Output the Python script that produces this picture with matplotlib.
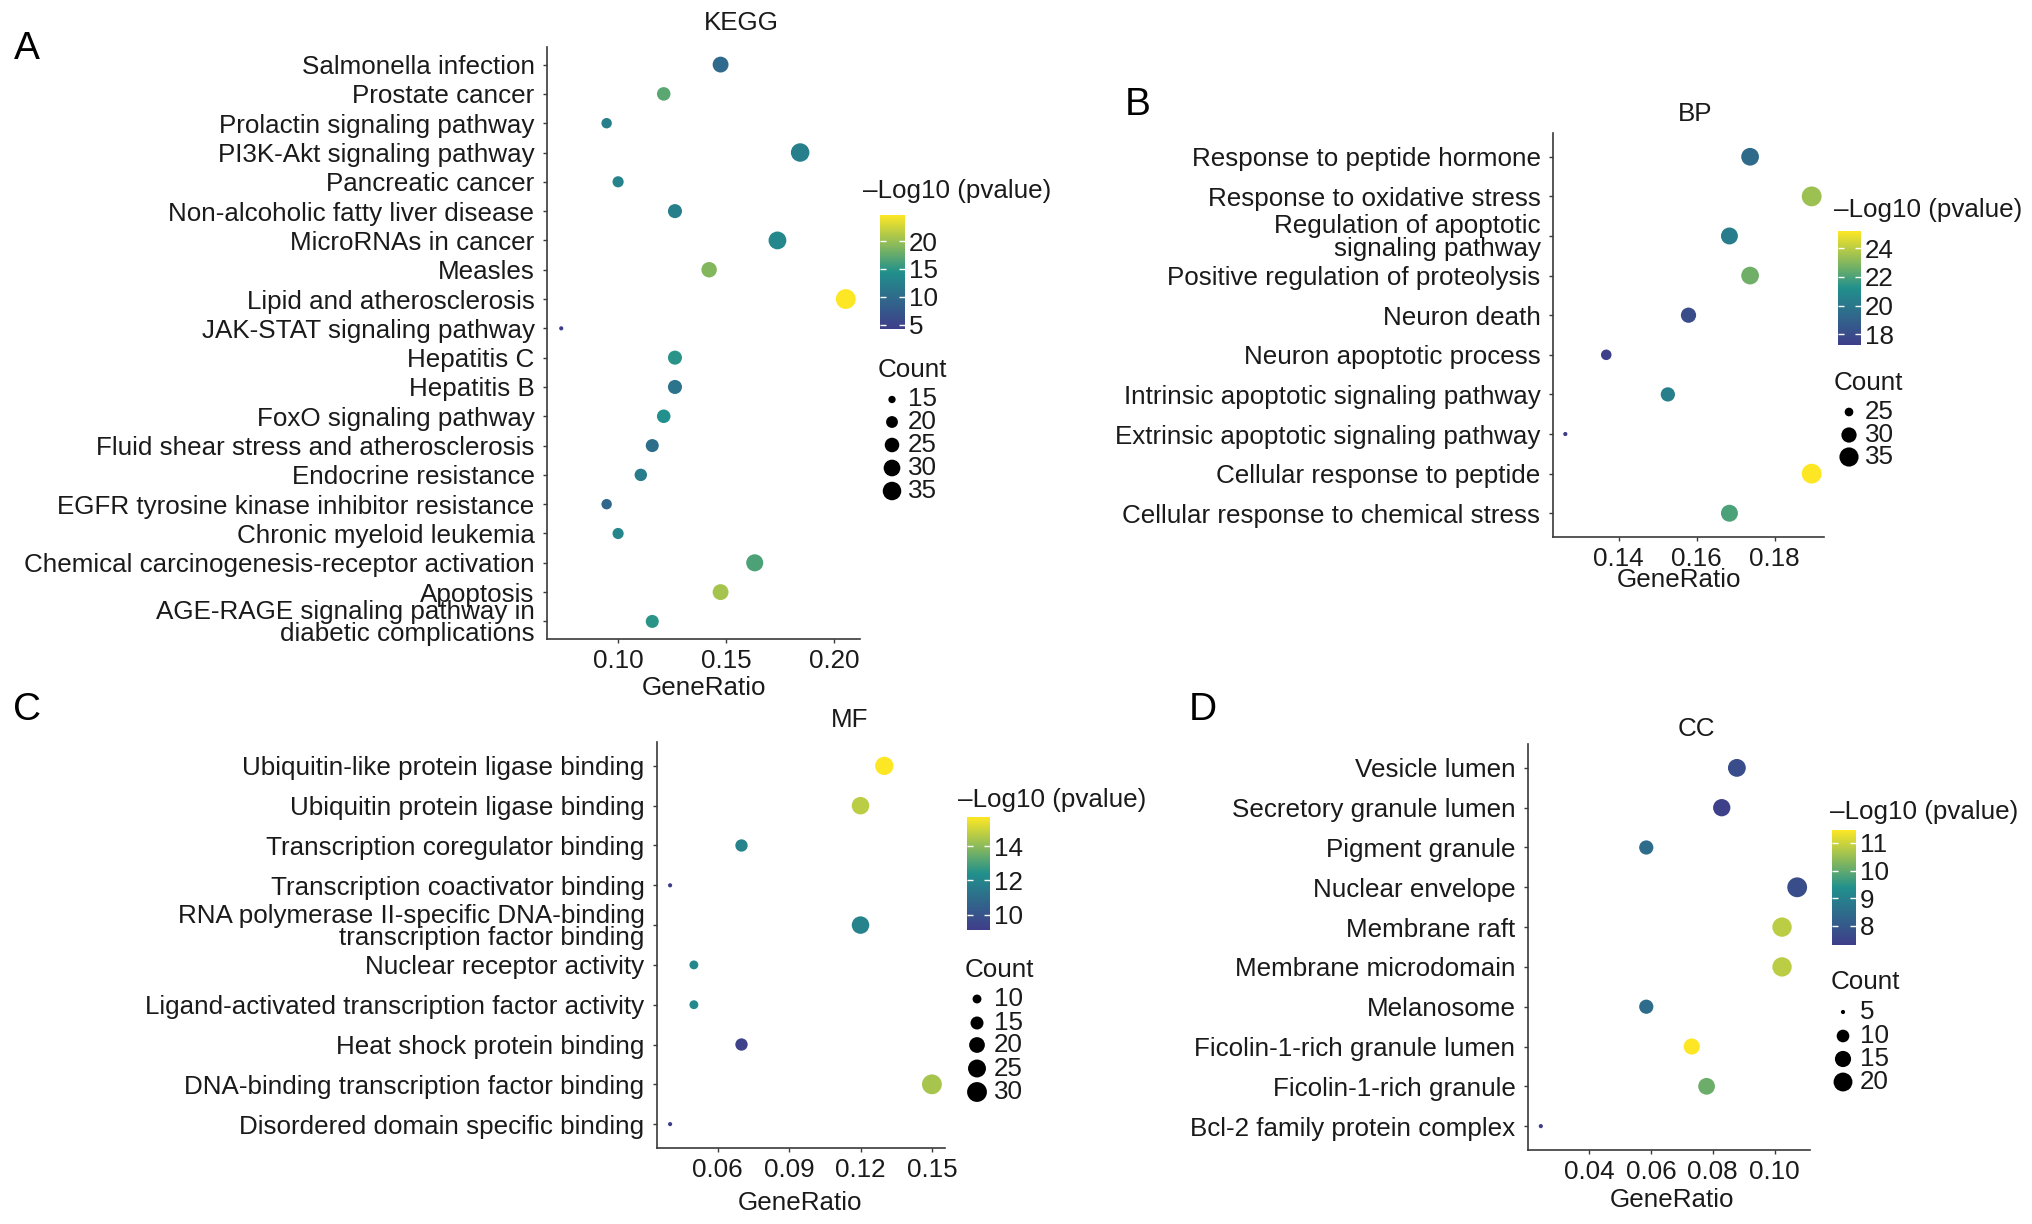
import numpy as np
import matplotlib
matplotlib.use("Agg")
import matplotlib.pyplot as plt
from matplotlib.colors import Normalize, LinearSegmentedColormap
from matplotlib.cm import ScalarMappable

plt.rcParams['font.family'] = ['Liberation Sans', 'DejaVu Sans']

# ---------------- data ----------------
kegg_terms = ["Salmonella infection", "Prostate cancer", "Prolactin signaling pathway",
              "PI3K-Akt signaling pathway", "Pancreatic cancer", "Non-alcoholic fatty liver disease",
              "MicroRNAs in cancer", "Measles", "Lipid and atherosclerosis", "JAK-STAT signaling pathway",
              "Hepatitis C", "Hepatitis B", "FoxO signaling pathway", "Fluid shear stress and atherosclerosis",
              "Endocrine resistance", "EGFR tyrosine kinase inhibitor resistance", "Chronic myeloid leukemia",
              "Chemical carcinogenesis-receptor activation", "Apoptosis",
              "AGE-RAGE signaling pathway in\ndiabetic complications"]
kegg_count = [28, 23, 18, 35, 19, 24, 33, 27, 39, 14, 24, 24, 23, 22, 21, 18, 19, 31, 28, 22]
kegg_ratio = [0.1474, 0.1211, 0.0947, 0.1842, 0.1000, 0.1263, 0.1737, 0.1421, 0.2053, 0.0737,
              0.1263, 0.1263, 0.1211, 0.1158, 0.1105, 0.0947, 0.1000, 0.1632, 0.1474, 0.1158]
kegg_logp = [9.7, 17.1, 12.4, 12.4, 12.8, 12.4, 13.4, 19.0, 24.7, 4.2,
             14.9, 11.0, 14.5, 10.4, 12.0, 9.5, 13.2, 16.5, 20.6, 14.9]
kegg_xticks = [0.10, 0.15, 0.20]
kegg_cticks = [5, 10, 15, 20]
kegg_sbreaks = [15, 20, 25, 30, 35]

bp_terms = ["Response to peptide hormone", "Response to oxidative stress",
            "Regulation of apoptotic\nsignaling pathway", "Positive regulation of proteolysis",
            "Neuron death", "Neuron apoptotic process", "Intrinsic apoptotic signaling pathway",
            "Extrinsic apoptotic signaling pathway", "Cellular response to peptide",
            "Cellular response to chemical stress"]
bp_count = [33, 36, 32, 33, 30, 26, 29, 24, 36, 32]
bp_ratio = [0.1737, 0.1895, 0.1684, 0.1737, 0.1579, 0.1368, 0.1526, 0.1263, 0.1895, 0.1684]
bp_logp = [19.4, 23.45, 20.3, 22.65, 18.05, 17.4, 20.4, 17.25, 25.2, 22.0]
bp_xticks = [0.14, 0.16, 0.18]
bp_cticks = [18, 20, 22, 24]
bp_sbreaks = [25, 30, 35]

mf_terms = ["Ubiquitin-like protein ligase binding", "Ubiquitin protein ligase binding",
            "Transcription coregulator binding", "Transcription coactivator binding",
            "RNA polymerase II-specific DNA-binding\ntranscription factor binding",
            "Nuclear receptor activity", "Ligand-activated transcription factor activity",
            "Heat shock protein binding", "DNA-binding transcription factor binding",
            "Disordered domain specific binding"]
mf_count = [26, 24, 14, 8, 24, 10, 10, 14, 30, 8]
mf_ratio = [0.130, 0.120, 0.070, 0.040, 0.120, 0.050, 0.050, 0.070, 0.150, 0.040]
mf_logp = [15.7, 14.7, 11.9, 9.1, 11.9, 12.1, 12.1, 9.3, 14.4, 9.2]
mf_xticks = [0.06, 0.09, 0.12, 0.15]
mf_cticks = [10, 12, 14]
mf_sbreaks = [10, 15, 20, 25, 30]

cc_terms = ["Vesicle lumen", "Secretory granule lumen", "Pigment granule", "Nuclear envelope",
            "Membrane raft", "Membrane microdomain", "Melanosome", "Ficolin-1-rich granule lumen",
            "Ficolin-1-rich granule", "Bcl-2 family protein complex"]
cc_count = [18, 17, 12, 22, 21, 21, 12, 15, 16, 5]
cc_ratio = [0.0878, 0.0829, 0.0585, 0.1073, 0.1024, 0.1024, 0.0585, 0.0732, 0.0780, 0.0244]
cc_logp = [7.7, 7.4, 8.45, 7.7, 10.85, 10.85, 8.45, 11.47, 10.1, 7.3]
cc_xticks = [0.04, 0.06, 0.08, 0.10]
cc_cticks = [8, 9, 10, 11]
cc_sbreaks = [5, 10, 15, 20]

# ---------------- style / layout (pixels) ----------------
W, H = 2032, 1224
FS = 18.7
TXT = '#1a1a1a'
AXC = '#3a3a3a'
CMAP = LinearSegmentedColormap.from_list("grad", ["#3f3d8a", "#21908C", "#FDE725"])

fig = plt.figure(figsize=(W / 100, H / 100), dpi=100)
ov = fig.add_axes([0, 0, 1, 1], zorder=10)
ov.set_xlim(0, W)
ov.set_ylim(H, 0)
ov.set_axis_off()


def size_pt2(c, cmin, cmax):
    t = (np.asarray(c, float) - cmin) / (cmax - cmin)
    g = 1 + 5 * np.sqrt(np.clip(t, 0, 1))
    d_px = 1.1 * (g * 2.845 + 0.945)
    return (d_px * 72 / 100) ** 2


panels = [
    dict(terms=kegg_terms, count=kegg_count, ratio=kegg_ratio, logp=kegg_logp,
         xticks=kegg_xticks, cticks=kegg_cticks, sbreaks=kegg_sbreaks, title="KEGG", letter="A",
         ax=(547, 860, 47, 639), title_xy=(741, 23), letter_xy=(27, 49), xlab_xy=(704, 688),
         ct_xy=(863, 191), cbar=(880, 905, 215, 329), st_xy=(878, 370),
         sy=[399.5, 422, 445, 468, 491], sx=892, slx=908),
    dict(terms=bp_terms, count=bp_count, ratio=bp_ratio, logp=bp_logp,
         xticks=bp_xticks, cticks=bp_cticks, sbreaks=bp_sbreaks, title="BP", letter="B",
         ax=(1553, 1824, 133, 537), title_xy=(1695, 114), letter_xy=(1138, 105), xlab_xy=(1679, 580),
         ct_xy=(1834, 210), cbar=(1838, 1861, 231, 345), st_xy=(1834, 383),
         sy=[412, 435, 457], sx=1849, slx=1865),
    dict(terms=mf_terms, count=mf_count, ratio=mf_ratio, logp=mf_logp,
         xticks=mf_xticks, cticks=mf_cticks, sbreaks=mf_sbreaks, title="MF", letter="C",
         ax=(657, 945, 742, 1148), title_xy=(850, 720), letter_xy=(27, 710), xlab_xy=(800, 1203),
         ct_xy=(958, 800), cbar=(967, 990, 817, 930), st_xy=(965, 970),
         sy=[999, 1023, 1045, 1068.5, 1092], sx=977, slx=994),
    dict(terms=cc_terms, count=cc_count, ratio=cc_ratio, logp=cc_logp,
         xticks=cc_xticks, cticks=cc_cticks, sbreaks=cc_sbreaks, title="CC", letter="D",
         ax=(1528, 1810, 744, 1150), title_xy=(1696, 729), letter_xy=(1203, 710), xlab_xy=(1672, 1200),
         ct_xy=(1830, 812), cbar=(1832, 1856, 830, 945), st_xy=(1831, 982),
         sy=[1012, 1036, 1059, 1082], sx=1843, slx=1860),
]


def frac_rect(L, R, T, B):
    return [L / W, 1 - B / H, (R - L) / W, (B - T) / H]


for p in panels:
    L, R, T, B = p['ax']
    ax = fig.add_axes(frac_rect(L, R, T, B))
    n = len(p['terms'])
    ypos = np.arange(n)[::-1]
    cnt = np.array(p['count'], float)
    cmin, cmax = cnt.min(), cnt.max()
    vmin, vmax = min(p['logp']), max(p['logp'])
    norm = Normalize(vmin, vmax)
    ax.scatter(p['ratio'], ypos, s=size_pt2(cnt, cmin, cmax), c=p['logp'],
               cmap=CMAP, norm=norm, linewidths=0, zorder=3)
    xr = np.array(p['ratio'])
    span = xr.max() - xr.min()
    ax.set_xlim(xr.min() - 0.05 * span, xr.max() + 0.05 * span)
    ax.set_ylim(-0.6, n - 1 + 0.6)
    ax.set_yticks(ypos)
    ax.set_yticklabels(p['terms'], fontsize=FS, color=TXT, linespacing=0.92)
    ax.set_xticks(p['xticks'])
    ax.set_xticklabels([f"{v:.2f}" for v in p['xticks']], fontsize=FS, color=TXT)
    for s in ['top', 'right']:
        ax.spines[s].set_visible(False)
    for s in ['left', 'bottom']:
        ax.spines[s].set_color(AXC)
        ax.spines[s].set_linewidth(1.2)
    ax.tick_params(axis='both', colors=AXC, length=3, width=1.0, labelcolor=TXT)
    ax.tick_params(axis='y', pad=6)
    ax.tick_params(axis='x', pad=4)
    ax.patch.set_alpha(0)

    ov.text(*p['title_xy'], p['title'], ha='center', va='center', fontsize=FS, color=TXT)
    ov.text(*p['letter_xy'], p['letter'], ha='center', va='center', fontsize=28, color='black')
    ov.text(*p['xlab_xy'], "GeneRatio", ha='center', va='center', fontsize=FS, color=TXT)

    # colour bar
    ov.text(*p['ct_xy'], "\u2013Log10 (pvalue)", ha='left', va='center', fontsize=FS, color=TXT)
    cl, cr, ct, cb_ = p['cbar']
    cax = fig.add_axes(frac_rect(cl, cr, ct, cb_))
    cbar = fig.colorbar(ScalarMappable(norm=norm, cmap=CMAP), cax=cax)
    cbar.outline.set_visible(False)
    cbar.set_ticks(p['cticks'])
    cbar.set_ticklabels([str(v) for v in p['cticks']])
    cax.tick_params(axis='y', direction='in', length=4, width=1.0, colors='white',
                    left=True, right=True, labelleft=False, labelright=True,
                    labelcolor=TXT, labelsize=FS, pad=3)

    # size legend
    ov.text(*p['st_xy'], "Count", ha='left', va='center', fontsize=FS, color=TXT)
    sb = np.array(p['sbreaks'], float)
    ov.scatter([p['sx']] * len(sb), p['sy'], s=size_pt2(sb, cmin, cmax), c='black',
               linewidths=0)
    for yy, v in zip(p['sy'], p['sbreaks']):
        ov.text(p['slx'], yy, str(v), ha='left', va='center', fontsize=FS, color=TXT)

fig.savefig("out.png", dpi=100, facecolor='white')
